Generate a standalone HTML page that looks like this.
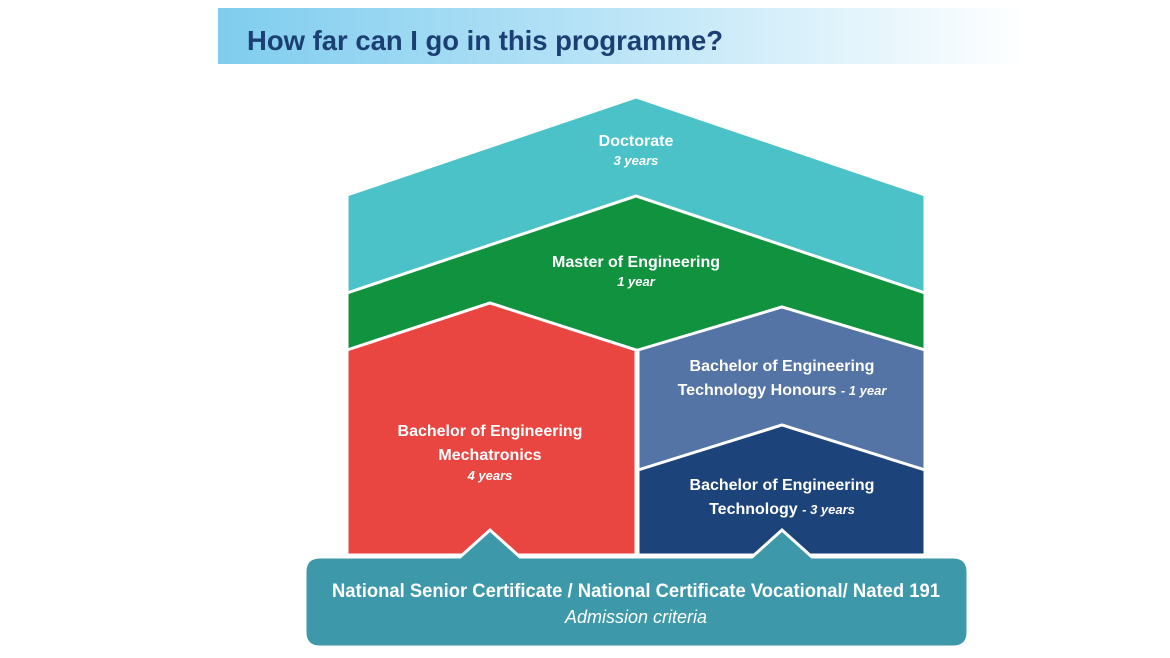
<!DOCTYPE html>
<html><head><meta charset="utf-8"><style>
html,body{margin:0;padding:0;background:#fff;width:1170px;height:658px;overflow:hidden}
svg{display:block}
text{font-family:"Liberation Sans Narrow","Liberation Sans",sans-serif;fill:#fff;font-weight:bold}
text.n{font-weight:normal}
</style></head><body>
<svg width="1170" height="658" viewBox="0 0 1170 658" xmlns="http://www.w3.org/2000/svg">
<defs>
<linearGradient id="hg" x1="0" x2="1" y1="0" y2="0">
<stop offset="0" stop-color="#7fcdee"/><stop offset="0.45" stop-color="#b5e2f6"/><stop offset="1" stop-color="#ffffff"/>
</linearGradient>
</defs>
<rect x="218" y="8" width="807" height="56" fill="url(#hg)"/>
<text x="247" y="50" font-size="28" textLength="476" lengthAdjust="spacingAndGlyphs" style="fill:#1b3f73">How far can I go in this programme?</text>

<g stroke="#fff" stroke-width="3" stroke-linejoin="miter">
<polygon points="347,195 636,97 925,195 925,350 347,350" fill="#4bc2c7"/>
<polygon points="347,293 636,196 925,293 925,350 347,350" fill="#10923f"/>
<polygon points="347,350 490,303 636,350 636,555 347,555" fill="#e94541"/>
<polygon points="638,350 782,307 925,350 925,555 638,555" fill="#5374a4"/>
<polygon points="638,470 782,425 925,470 925,555 638,555" fill="#1c437a"/>
<path d="M320,557 L460,557 L490,530 L520,557 L752,557 L782,530 L812,557 L953,557 Q968,557 968,572 L968,632 Q968,647 953,647 L320,647 Q305,647 305,632 L305,572 Q305,557 320,557 Z" fill="#3d98a9"/>
</g>

<text x="636" y="146" font-size="16" text-anchor="middle">Doctorate</text>
<text x="636" y="165" font-size="13" text-anchor="middle" font-style="italic">3 years</text>
<text x="636" y="267" font-size="16" text-anchor="middle">Master of Engineering</text>
<text x="636" y="286" font-size="13" text-anchor="middle" font-style="italic">1 year</text>
<text x="490" y="436" font-size="16" text-anchor="middle">Bachelor of Engineering</text>
<text x="490" y="460" font-size="16" text-anchor="middle">Mechatronics</text>
<text x="490" y="480" font-size="13" text-anchor="middle" font-style="italic">4 years</text>
<text x="782" y="371" font-size="16" text-anchor="middle">Bachelor of Engineering</text>
<text x="782" y="395" font-size="16" text-anchor="middle">Technology Honours <tspan font-size="13" font-style="italic">- 1 year</tspan></text>
<text x="782" y="490" font-size="16" text-anchor="middle">Bachelor of Engineering</text>
<text x="782" y="514" font-size="16" text-anchor="middle">Technology <tspan font-size="13" font-style="italic">- 3 years</tspan></text>
<text x="636" y="597" font-size="19" text-anchor="middle" textLength="608" lengthAdjust="spacingAndGlyphs">National Senior Certificate / National Certificate Vocational/ Nated 191</text>
<text class="n" x="636" y="623" font-size="18" text-anchor="middle" font-style="italic">Admission criteria</text>
</svg>
</body></html>
